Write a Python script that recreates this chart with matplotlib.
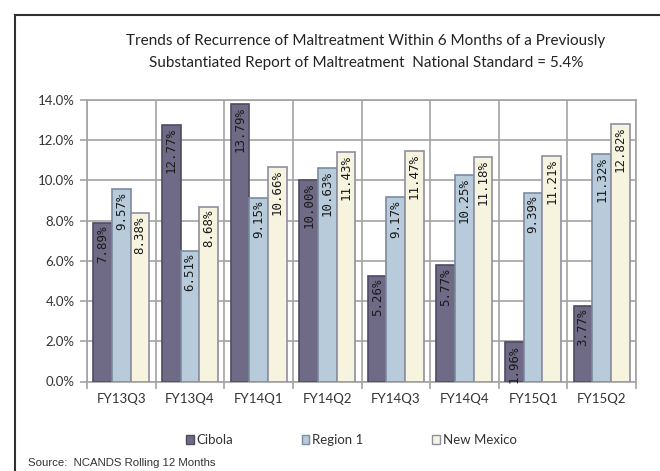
import matplotlib
matplotlib.use("Agg")
import matplotlib.pyplot as plt
from matplotlib.patches import Patch
from matplotlib.lines import Line2D
import numpy as np

categories = ["FY13Q3", "FY13Q4", "FY14Q1", "FY14Q2", "FY14Q3", "FY14Q4", "FY15Q1", "FY15Q2"]
cibola = [7.89, 12.77, 13.79, 10.00, 5.26, 5.77, 1.96, 3.77]
region1 = [9.57, 6.51, 9.15, 10.63, 9.17, 10.25, 9.39, 11.32]
new_mexico = [8.38, 8.68, 10.66, 11.43, 11.47, 11.18, 11.21, 12.82]
series_names = ["Cibola", "Region 1", "New Mexico"]
yticks = [0, 2, 4, 6, 8, 10, 12, 14]

title = ("Trends of Recurrence of Maltreatment Within 6 Months of a Previously\n"
         "Substantiated Report of Maltreatment  National Standard = 5.4%")
source = "Source:  NCANDS Rolling 12 Months"

W, H = 660, 471
fig = plt.figure(figsize=(W / 100, H / 100), dpi=100)
fig.patch.set_facecolor("white")

def fx(px):
    return px / W

def fy(py):
    return 1 - py / H

# outer frame (top + left lines)
fig.add_artist(Line2D([fx(15), 1.0], [fy(15), fy(15)], color="#303030", lw=1.5, transform=fig.transFigure))
fig.add_artist(Line2D([fx(15), fx(15)], [fy(15), 0.0], color="#303030", lw=1.5, transform=fig.transFigure))

left, right, top, bottom = 87, 636, 100, 381.5
ax = fig.add_axes([fx(left), fy(bottom), fx(right - left), (bottom - top) / H])

colors = ["#6f6b86", "#b8cbdb", "#f6f3df"]
edges = ["#4f4b63", "#7d8aa0", "#8e8ea0"]
data = [cibola, region1, new_mexico]
x = np.arange(len(categories))
bw = 0.272
mono = "DejaVu Sans Mono"

for k, (vals, c, ec) in enumerate(zip(data, colors, edges)):
    pos = x + (k - 1) * bw
    ax.bar(pos, vals, width=bw, color=c, edgecolor=ec, linewidth=1.2, zorder=3)
    for xi, v in zip(pos, vals):
        ax.annotate(f"{v:.2f}%", xy=(xi, v), xytext=(0, -3), textcoords="offset pixels",
                    rotation=90, ha="center", va="top", fontsize=9.0,
                    family=mono, color="#1a1a1a", zorder=5, annotation_clip=False)

ax.set_xlim(-0.5, len(categories) - 0.5)
ax.set_ylim(0, 14)
ax.set_yticks(yticks)
ax.set_yticklabels([f"{v:.1f}%" for v in yticks])
ax.set_xticks(x)
ax.set_xticklabels(categories)
ax.set_xticks(np.arange(-0.5, len(categories), 1.0), minor=True)

gc = "#a3a3a3"
ax.yaxis.grid(True, color=gc, lw=1.2, zorder=0)
ax.xaxis.grid(True, which="minor", color=gc, lw=1.2, zorder=0)
ax.xaxis.grid(False, which="major")
for s in ["top", "right", "left", "bottom"]:
    ax.spines[s].set_color(gc)
    ax.spines[s].set_linewidth(1.2)
ax.tick_params(axis="y", length=5, color=gc, width=1.2, pad=4, labelsize=9.5, labelcolor="#333333")
ax.tick_params(axis="x", which="major", length=0, pad=8, labelsize=9.5, labelcolor="#333333")
ax.tick_params(axis="x", which="minor", length=5, color=gc, width=1.2)
for lab in ax.get_yticklabels() + ax.get_xticklabels():
    lab.set_family("Lato")

fig.text(fx(366), fy(52), title, ha="center", va="center", fontsize=11, family="Lato",
         color="#222222", linespacing=1.8)

handles = [Patch(facecolor=c, edgecolor=ec, linewidth=1.0) for c, ec in zip(colors, edges)]
leg = fig.legend(handles, series_names, loc="center", bbox_to_anchor=(fx(351), fy(440)),
                 ncol=3, frameon=False, handlelength=0.6, handleheight=0.6,
                 handletextpad=0.2, columnspacing=5.2, prop={"family": "Lato", "size": 9.5})
for t in leg.get_texts():
    t.set_color("#333333")

fig.text(fx(28), fy(463), source, ha="left", va="center", fontsize=8.2,
         family="Liberation Sans", color="#333333")

fig.savefig("out.png", dpi=100)
